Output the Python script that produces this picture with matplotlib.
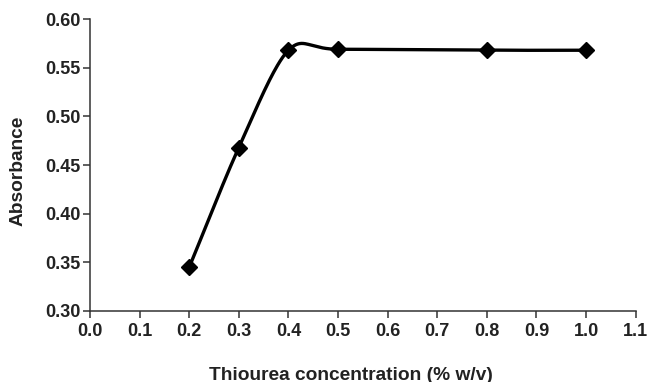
import numpy as np
import matplotlib
matplotlib.use("Agg")
import matplotlib.pyplot as plt

plt.rcParams['font.family'] = ['Liberation Sans', 'DejaVu Sans']

concentration = [0.2, 0.3, 0.4, 0.5, 0.8, 1.0]
absorbance = [0.345, 0.468, 0.568, 0.569, 0.568, 0.568]
x_ticks = [0.0, 0.1, 0.2, 0.3, 0.4, 0.5, 0.6, 0.7, 0.8, 0.9, 1.0, 1.1]
y_ticks = [0.30, 0.35, 0.40, 0.45, 0.50, 0.55, 0.60]


def catmull_rom(xs, ys, n=40, k=0.9):
    xs = np.asarray(xs, float)
    ys = np.asarray(ys, float)
    px = np.concatenate([[2 * xs[0] - xs[1]], xs, [2 * xs[-1] - xs[-2]]])
    py = np.concatenate([[2 * ys[0] - ys[1]], ys, [2 * ys[-1] - ys[-2]]])
    ox, oy = [], []
    t = np.linspace(0, 1, n)
    for i in range(1, len(px) - 2):
        for P, out in ((px, ox), (py, oy)):
            p0, p1, p2, p3 = P[i - 1], P[i], P[i + 1], P[i + 2]
            m1 = (p2 - p0) / 2 * k
            m2 = (p3 - p1) / 2 * k
            h00 = 2 * t**3 - 3 * t**2 + 1
            h10 = t**3 - 2 * t**2 + t
            h01 = -2 * t**3 + 3 * t**2
            h11 = t**3 - t**2
            out.extend(h00 * p1 + h10 * m1 + h01 * p2 + h11 * m2)
    return np.array(ox), np.array(oy)


fig = plt.figure(figsize=(6.5, 3.82), dpi=100)
ax = fig.add_axes([0.1385, 0.186, 0.978 - 0.1385, 0.950 - 0.186])

sx, sy = catmull_rom(concentration, absorbance)
ax.plot(sx, sy, color='black', lw=2.4, solid_capstyle='round')
ax.plot(concentration, absorbance, linestyle='none', marker='D', color='black', markersize=8)

ax.set_xlim(0.0, 1.1)
ax.set_ylim(0.30, 0.60)
ax.set_xticks(x_ticks)
ax.set_xticklabels([f"{v:.1f}" for v in x_ticks])
ax.set_yticks(y_ticks)
ax.set_yticklabels([f"{v:.2f}" for v in y_ticks])

for s in ['top', 'right']:
    ax.spines[s].set_visible(False)
for s in ['left', 'bottom']:
    ax.spines[s].set_linewidth(1.1)
    ax.spines[s].set_color('#333333')

ax.tick_params(direction='out', length=5, width=1.1, colors='#333333', labelsize=13)
for lab in ax.get_xticklabels() + ax.get_yticklabels():
    lab.set_fontweight('bold')
    lab.set_color('#222222')
ax.tick_params(axis='x', pad=4)
ax.tick_params(axis='y', pad=2)

fig.text(351 / 650, 1 - 375 / 382, 'Thiourea concentration (% w/v)', fontsize=13.8,
         fontweight='bold', color='#222222', ha='center', va='center')
fig.text(18 / 650, 1 - 171 / 382, 'Absorbance', fontsize=13.8, fontweight='bold',
         color='#222222', ha='center', va='center', rotation=90)

fig.savefig('out.png', dpi=100)
